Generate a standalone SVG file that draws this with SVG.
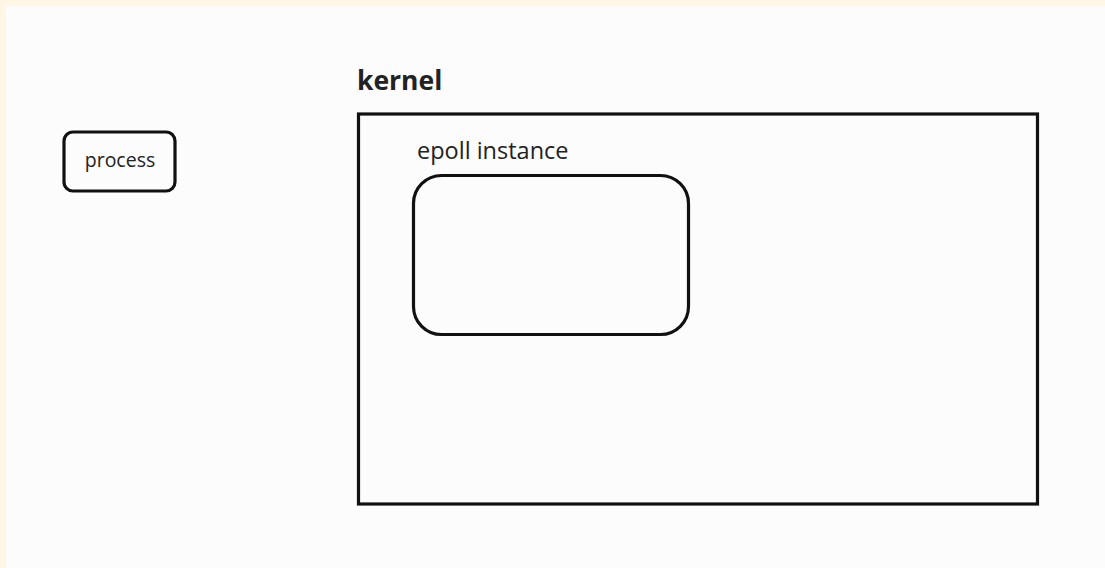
<svg xmlns="http://www.w3.org/2000/svg" width="1105" height="568" viewBox="0 0 1105 568">
<style>
.box{fill:none;stroke:#111;stroke-width:3.2}
.t{font-family:"Open Sans","Noto Sans","Liberation Sans",sans-serif;fill:#222}
</style>
<rect x="0" y="0" width="1105" height="568" fill="#fff6e5"/>
<rect x="6" y="6" width="1099" height="562" fill="#fcfcfc"/>
<g id="process">
<rect class="box" x="64" y="132" width="111" height="59" rx="9"/>
<text class="t" x="120" y="167" font-size="19.5" text-anchor="middle">process</text>
</g>
<g id="kernel">
<text class="t" x="357" y="90" font-size="26.5" font-weight="bold" fill="#111">kernel</text>
<rect class="box" x="358.5" y="114" width="679" height="390"/>
</g>
<g id="epoll">
<text class="t" x="417" y="159" font-size="23.5">epoll instance</text>
<rect class="box" x="413.5" y="175.5" width="275" height="159" rx="28"/>
</g>
<g id="connectors"/>
</svg>
